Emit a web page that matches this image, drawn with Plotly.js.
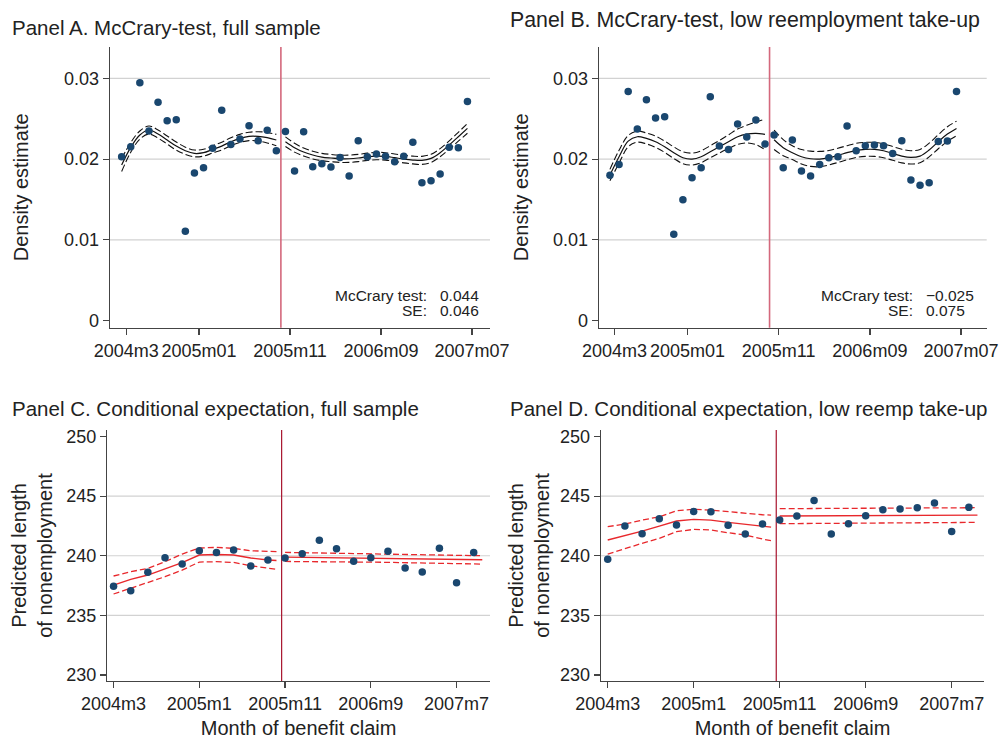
<!DOCTYPE html>
<html>
<head>
<meta charset="utf-8">
<script src="https://cdn.plot.ly/plotly-3.0.1.min.js"></script>
<style>
  html, body { margin: 0; padding: 0; background: #fff; }
  #chart { width: 1001px; height: 739px; }
</style>
</head>
<body>
<div id="chart"></div>
<script>
// ---------- Panels A and B: density of claims by monthly bin ----------
// x = months counted from 2003m12 (2004m1 = 1)
const binMonths = [4.5, 5.5, 6.5, 7.5, 8.5, 9.5, 10.5, 11.5, 12.5, 13.5, 14.5, 15.5, 16.5, 17.5,
  18.5, 19.5, 20.5, 21.5, 22.5, 23.5, 24.5, 25.5, 26.5, 27.5, 28.5, 29.5, 30.5, 31.5, 32.5,
  33.5, 34.5, 35.5, 36.5, 37.5, 38.5, 39.5, 40.5, 41.5, 42.5];

const densityA = [0.02030, 0.02154, 0.02947, 0.02348, 0.02704, 0.02476, 0.02488, 0.01105,
  0.01828, 0.01894, 0.02134, 0.02605, 0.02183, 0.02249, 0.02414, 0.02228, 0.02357, 0.02104,
  0.02344, 0.01853, 0.02340, 0.01906, 0.01943, 0.01902, 0.02022, 0.01791, 0.02228, 0.02030,
  0.02063, 0.02035, 0.01968, 0.02035, 0.02208, 0.01708, 0.01732, 0.01815, 0.02146, 0.02141, 0.02716];

const densityB = [0.01799, 0.01935, 0.02840, 0.02373, 0.02736, 0.02509, 0.02526, 0.01068,
  0.01497, 0.01770, 0.01894, 0.02774, 0.02162, 0.02121, 0.02435, 0.02274, 0.02485, 0.02187,
  0.02299, 0.01894, 0.02237, 0.01853, 0.01791, 0.01935, 0.02018, 0.02030, 0.02410, 0.02104,
  0.02166, 0.02175, 0.02166, 0.02071, 0.02228, 0.01741, 0.01675, 0.01708, 0.02220, 0.02224, 0.02840];

// local polynomial density fit and 95% half-width, before / after the cutoff
const fitA_pre  = [0.01927, 0.02146, 0.02299, 0.02361, 0.02311, 0.02237, 0.02162, 0.02104, 0.02071,
  0.02080, 0.02121, 0.02162, 0.02216, 0.02257, 0.02282, 0.02282, 0.02266, 0.02237];
const fitA_post = [0.02216, 0.02142, 0.02088, 0.02051, 0.02026, 0.02014, 0.02005, 0.02005, 0.02014,
  0.02030, 0.02038, 0.02034, 0.02018, 0.02001, 0.01989, 0.01985, 0.02010, 0.02080, 0.02175, 0.02278, 0.02381];
const ciA_pre  = [0.0008, 0.0006, 0.0005, 0.0005, 0.0005, 0.0005, 0.0005, 0.00045, 0.00042, 0.00042,
  0.00045, 0.00048, 0.0005, 0.0005, 0.00052, 0.00058, 0.00065, 0.0007];
const ciA_post = [0.0006, 0.00055, 0.0005, 0.00048, 0.00046, 0.00045, 0.00045, 0.00045, 0.00045, 0.00045,
  0.00046, 0.00046, 0.00046, 0.00047, 0.00048, 0.0005, 0.0005, 0.0005, 0.00052, 0.00055, 0.0006];

const fitB_pre  = [0.01803, 0.02030, 0.02224, 0.02278, 0.02257, 0.02216, 0.02154, 0.02080, 0.02018,
  0.02001, 0.02030, 0.02092, 0.02154, 0.02216, 0.02278, 0.02311, 0.02320, 0.02307];
const fitB_post = [0.02240, 0.02142, 0.02080, 0.02030, 0.02005, 0.02001, 0.02018, 0.02047, 0.02080,
  0.02109, 0.02121, 0.02121, 0.02104, 0.02071, 0.02038, 0.02022, 0.02038, 0.02113, 0.02216, 0.02311, 0.02381];
const ciB_pre  = [0.0007, 0.0008, 0.0007, 0.00068, 0.00068, 0.0007, 0.0007, 0.00072, 0.00074, 0.00074,
  0.00074, 0.00075, 0.00078, 0.00085, 0.00095, 0.0011, 0.0014, 0.0019];
const ciB_post = [0.0012, 0.001, 0.00085, 0.0009, 0.00095, 0.00095, 0.0009, 0.00088, 0.00087, 0.00087,
  0.00087, 0.00087, 0.00086, 0.00085, 0.00084, 0.00083, 0.00083, 0.00085, 0.00087, 0.0009, 0.0009];

const mccraryTest = { A: 0.044, B: -0.025 };
const mccrarySE   = { A: 0.046, B: 0.075 };

const densTickVals = [5, 13, 23, 33, 43];
const densTickText = ['2004m3', '2005m01', '2005m11', '2006m09', '2007m07'];
const densYTicks = [0, 0.01, 0.02, 0.03];
const densYText  = ['0', '0.01', '0.02', '0.03'];
const densGrid   = [0.01, 0.02, 0.03];
const cutoffDens = 22;

// ---------- Panels C and D: predicted length of nonemployment ----------
const claimMonths = [3, 5, 7, 9, 11, 13, 15, 17, 19, 21, 23, 25, 27, 29, 31, 33, 35, 37, 39, 41, 43, 45];
const predC = [237.43, 237.07, 238.61, 239.83, 239.30, 240.42, 240.28, 240.48, 239.14, 239.64,
  239.81, 240.17, 241.29, 240.59, 239.53, 239.83, 240.37, 238.97, 238.63, 240.62, 237.74, 240.28];
const predD = [239.70, 242.49, 241.85, 243.11, 242.58, 243.72, 243.69, 242.55, 241.82, 242.66,
  242.99, 243.33, 244.64, 241.82, 242.69, 243.36, 243.86, 243.92, 244.03, 244.42, 242.04, 244.06];

const fitMonthsPre  = [3, 5, 7, 9, 11, 13, 15, 17, 19, 21, 22];
const fitMonthsPost = [23, 34.5, 46];

const fitC_pre   = [237.54, 238.02, 238.38, 238.88, 239.42, 240.06, 240.11, 240.06, 239.81, 239.64, 239.60];
const upC_pre    = [238.30, 238.66, 238.94, 239.50, 240.14, 240.65, 240.70, 240.62, 240.42, 240.34, 240.34];
const loC_pre    = [236.79, 237.26, 237.74, 238.24, 238.80, 239.47, 239.50, 239.44, 239.16, 238.94, 238.86];
const fitC_post  = [239.88, 239.78, 239.66];
const upC_post   = [240.28, 240.14, 240.00];
const loC_post   = [239.52, 239.45, 239.30];

const fitD_pre   = [241.32, 241.68, 242.07, 242.49, 242.91, 243.05, 242.99, 242.80, 242.63, 242.44, 242.40];
const upD_pre    = [242.44, 242.66, 242.99, 243.27, 243.78, 243.89, 243.83, 243.69, 243.55, 243.44, 243.41];
const loD_pre    = [240.14, 240.62, 241.04, 241.46, 242.02, 242.21, 242.16, 241.93, 241.74, 241.40, 241.26];
const fitD_post  = [243.33, 243.37, 243.41];
const upD_post   = [243.95, 243.99, 244.03];
const loD_post   = [242.69, 242.74, 242.80];

const predTickVals = [3, 13, 23, 33, 43];
const predTickText = ['2004m3', '2005m1', '2005m11', '2006m9', '2007m7'];
const predYTicks = [230, 235, 240, 245, 250];
const predGrid   = [235, 240, 245];
const cutoffPred = 22.6;

// ---------- styling ----------
const FONT = 'Liberation Sans, Arial, Helvetica, sans-serif';
const TXT = '#222222';
const DOT = '#1a476f';
const FIT_RED = '#e8282c';
const W = 1001, H = 739;
const px = v => v / W;              // horizontal pixel -> paper
const py = v => 1 - v / H;          // vertical pixel (from top) -> paper

const joinSeg = (a, b) => a.concat([null], b);
const addArr = (f, c, s) => f.map((v, i) => v + s * c[i]);

const traces = [];
function dots(x, y, ax) {
  traces.push({ type: 'scatter', mode: 'markers', x: x, y: y, xaxis: 'x' + ax, yaxis: 'y' + ax,
    marker: { color: DOT, size: 7.5, line: { width: 0 } }, hoverinfo: 'skip', showlegend: false });
}
function line(x, y, ax, color, dash, width, shape) {
  traces.push({ type: 'scatter', mode: 'lines', x: x, y: y, xaxis: 'x' + ax, yaxis: 'y' + ax,
    line: { color: color, dash: dash, width: width, shape: shape, smoothing: 1 },
    connectgaps: false, hoverinfo: 'skip', showlegend: false });
}

// Panel A / B density fits
const preX = binMonths.slice(0, 18), postX = binMonths.slice(18);
[['', fitA_pre, fitA_post, ciA_pre, ciA_post, densityA], ['2', fitB_pre, fitB_post, ciB_pre, ciB_post, densityB]]
  .forEach(([ax, fPre, fPost, cPre, cPost, dens]) => {
    const xs = joinSeg(preX, postX);
    line(xs, joinSeg(addArr(fPre, cPre, 1), addArr(fPost, cPost, 1)), ax, '#111', '7px,3px', 1.1, 'spline');
    line(xs, joinSeg(addArr(fPre, cPre, -1), addArr(fPost, cPost, -1)), ax, '#111', '7px,3px', 1.1, 'spline');
    line(xs, joinSeg(fPre, fPost), ax, '#111', 'solid', 1.2, 'spline');
    dots(binMonths, dens, ax);
  });

// Panel C / D regression fits
[['3', fitC_pre, upC_pre, loC_pre, fitC_post, upC_post, loC_post, predC],
 ['4', fitD_pre, upD_pre, loD_pre, fitD_post, upD_post, loD_post, predD]]
  .forEach(([ax, f0, u0, l0, f1, u1, l1, pred]) => {
    const xs = joinSeg(fitMonthsPre, fitMonthsPost);
    line(xs, joinSeg(u0, u1), ax, FIT_RED, '6px,3px', 1.3, 'linear');
    line(xs, joinSeg(l0, l1), ax, FIT_RED, '6px,3px', 1.3, 'linear');
    line(xs, joinSeg(f0, f1), ax, FIT_RED, 'solid', 1.4, 'linear');
    dots(claimMonths, pred, ax);
  });

const baseAxis = {
  showgrid: false, zeroline: false, showline: true, linecolor: '#444', linewidth: 1.3,
  ticks: 'outside', ticklen: 6, tickwidth: 1.3, tickcolor: '#444',
  tickfont: { family: FONT, size: 18, color: TXT }, fixedrange: true
};
const xTitle = { text: 'Month of benefit claim', font: { family: FONT, size: 20, color: TXT }, standoff: 14 };
const yTitle = (text, standoff) => ({ text: text, font: { family: FONT, size: 20, color: TXT }, standoff: standoff });

const layout = {
  width: W, height: H, margin: { l: 0, r: 0, t: 0, b: 0 },
  paper_bgcolor: '#fff', plot_bgcolor: '#fff', showlegend: false,
  font: { family: FONT, color: TXT },
  xaxis:  Object.assign({}, baseAxis, { domain: [px(110), px(490)], range: [3.22, 44.98], anchor: 'y',
    tickvals: densTickVals, ticktext: densTickText }),
  yaxis:  Object.assign({}, baseAxis, { domain: [py(327.7), py(47)], range: [-0.00089, 0.0339], anchor: 'x',
    tickvals: densYTicks, ticktext: densYText, title: yTitle('Density estimate', 30) }),
  xaxis2: Object.assign({}, baseAxis, { domain: [px(599), px(986.7)], range: [3.30, 45.81], anchor: 'y2',
    tickvals: densTickVals, ticktext: densTickText }),
  yaxis2: Object.assign({}, baseAxis, { domain: [py(327.7), py(47)], range: [-0.00089, 0.0339], anchor: 'x2',
    tickvals: densYTicks, ticktext: densYText, title: yTitle('Density estimate', 19) }),
  xaxis3: Object.assign({}, baseAxis, { domain: [px(107.3), px(490)], range: [2.27, 46.9], anchor: 'y3',
    tickvals: predTickVals, ticktext: predTickText, title: xTitle }),
  yaxis3: Object.assign({}, baseAxis, { domain: [py(681), py(430)], range: [229.49, 250.55], anchor: 'x3',
    tickvals: predYTicks, title: yTitle('Predicted length<br>of nonemployment', 8) }),
  xaxis4: Object.assign({}, baseAxis, { domain: [px(601), px(984)], range: [2.22, 46.76], anchor: 'y4',
    tickvals: predTickVals, ticktext: predTickText, title: xTitle }),
  yaxis4: Object.assign({}, baseAxis, { domain: [py(681), py(430)], range: [229.49, 250.55], anchor: 'x4',
    tickvals: predYTicks, title: yTitle('Predicted length<br>of nonemployment', 5) }),
  shapes: [],
  annotations: []
};

// horizontal grid lines and cutoff markers
function grid(vals, ax) {
  vals.forEach(v => layout.shapes.push({ type: 'line', layer: 'below', xref: 'x' + ax + ' domain', yref: 'y' + ax,
    x0: 0, x1: 1, y0: v, y1: v, line: { color: '#d2d2d2', width: 1.2 } }));
}
function cutoff(x, ax, color, width) {
  layout.shapes.push({ type: 'line', layer: 'below', xref: 'x' + ax, yref: 'y' + ax + ' domain',
    x0: x, x1: x, y0: 0, y1: 1, line: { color: color, width: width } });
}
grid(densGrid, ''); grid(densGrid, '2'); grid(predGrid, '3'); grid(predGrid, '4');
cutoff(cutoffDens, '', '#d4687c', 1.6); cutoff(cutoffDens, '2', '#d4687c', 1.6);
cutoff(cutoffPred, '3', '#a8142e', 1.2); cutoff(cutoffPred, '4', '#a8142e', 1.2);

// panel titles
[['Panel A. McCrary-test, full sample', 10, 27, 20.5],
 ['Panel B. McCrary-test, low reemployment take-up', 508, 20, 21.3],
 ['Panel C. Conditional expectation, full sample', 10, 408, 20.5],
 ['Panel D. Conditional expectation, low reemp take-up', 508, 408, 20.5]].forEach(([t, x, y, s]) => {
  layout.annotations.push({ text: t, xref: 'paper', yref: 'paper', x: px(x), y: py(y),
    xanchor: 'left', yanchor: 'middle', showarrow: false, font: { family: FONT, size: s, color: TXT } });
});

// McCrary test statistics
const fmt = v => (v < 0 ? '\u2212' : '') + Math.abs(v).toFixed(3);
[['A', 429, 438], ['B', 915, 924]].forEach(([p, colonX, valX]) => {
  [['McCrary test:', fmt(mccraryTest[p]), 295], ['SE:', fmt(mccrarySE[p]), 310.5]].forEach(([lab, val, y]) => {
    layout.annotations.push({ text: lab, xref: 'paper', yref: 'paper', x: px(colonX), y: py(y),
      xanchor: 'right', yanchor: 'middle', showarrow: false, font: { family: FONT, size: 15.5, color: TXT } });
    layout.annotations.push({ text: val, xref: 'paper', yref: 'paper', x: px(valX), y: py(y),
      xanchor: 'left', yanchor: 'middle', showarrow: false, font: { family: FONT, size: 15.5, color: TXT } });
  });
});

Plotly.newPlot('chart', traces, layout, { staticPlot: true, displayModeBar: false });
</script>
</body>
</html>
